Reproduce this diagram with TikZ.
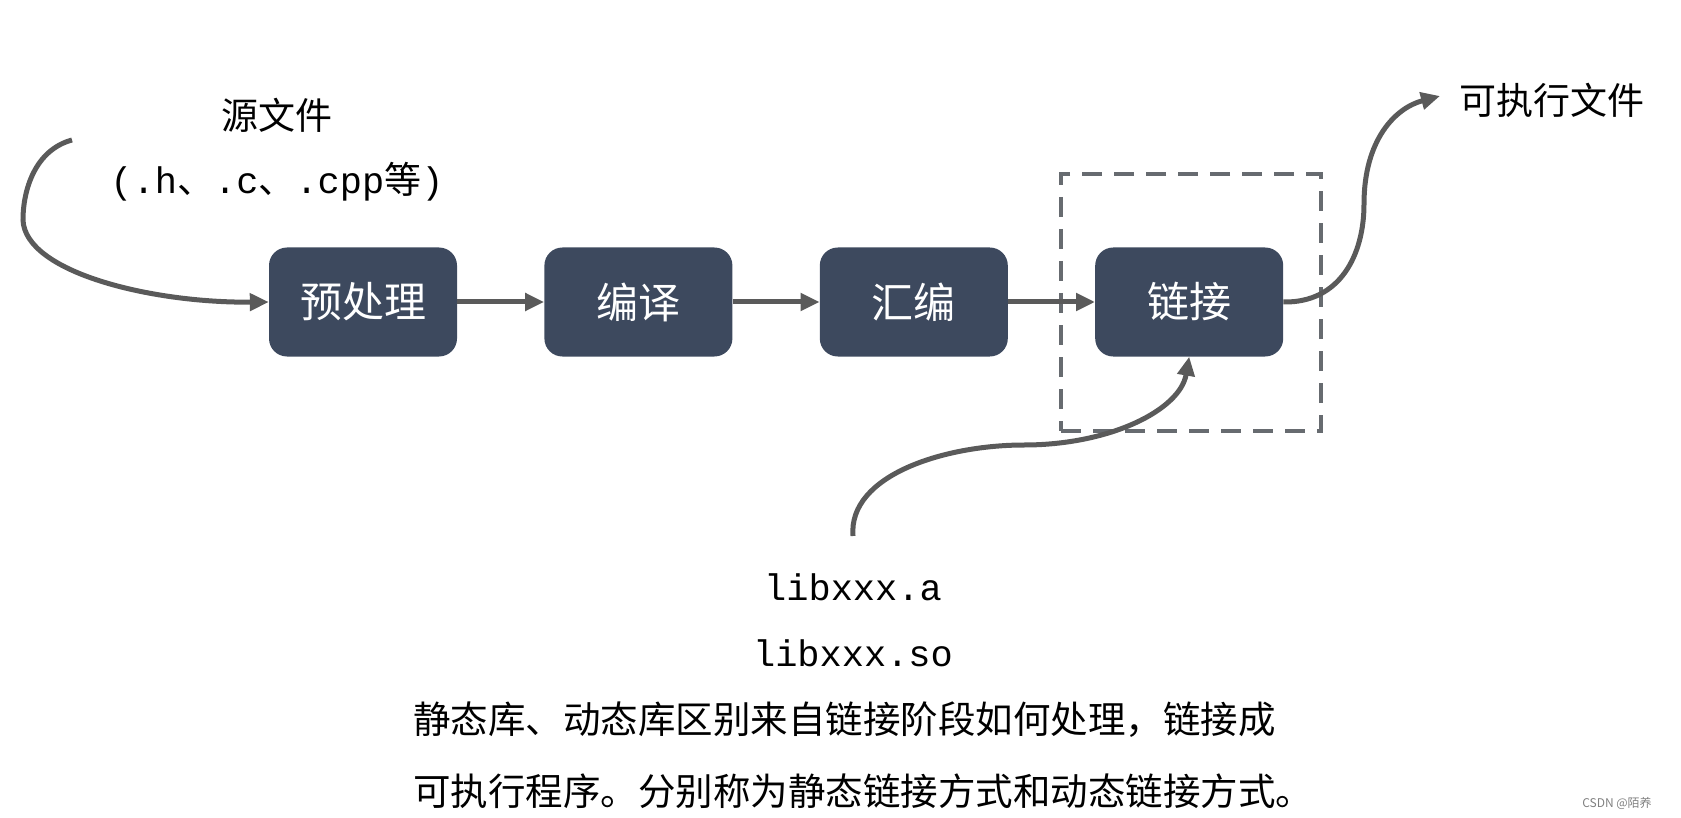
\documentclass[tikz,border=0pt]{standalone}
\usepackage{fontspec}
\setmainfont{Noto Sans CJK SC}
\setmonofont{Liberation Mono}
\usepackage{xcolor}
\usetikzlibrary{arrows.meta,positioning}
\definecolor{boxfill}{RGB}{61,73,94}
\definecolor{linkgray}{RGB}{90,90,90}
\definecolor{dashgray}{RGB}{103,107,112}

\begin{document}
\begin{tikzpicture}[x=1pt,y=-1pt,
  stage/.style={rectangle,rounded corners=18pt,fill=boxfill,text=white,
    minimum width=188pt,minimum height=109pt,inner sep=0pt,font=\fontsize{42}{50}\selectfont},
  flow/.style={draw=linkgray,line width=5pt,-{Triangle[length=19pt,width=17pt]}},
  txt/.style={inner sep=0pt,font=\fontsize{37}{44}\selectfont},
  node distance=87pt]
\useasboundingbox (0,0) rectangle (1681,818);
% link stage frame
\node[draw=dashgray,line width=3.5pt,dash pattern=on 20pt off 12pt,
  minimum width=260pt,minimum height=257pt] (zone) at (1191,302.5) {};
% stages
\node[stage] (pre) at (363,302) {预处理};
\node[stage,right=of pre] (comp) {编译};
\node[stage,right=of comp] (asm) {汇编};
\node[stage,right=of asm] (link) {链接};
\draw[flow] (pre)--(comp);
\draw[flow] (comp)--(asm);
\draw[flow] (asm)--(link);
% texts
\node[txt] (src) at (277,115) {源文件};
\node[txt] (ext) at (277,182) {\texttt{(.h}、\texttt{.c}、\texttt{.cpp}等\texttt{)}};
\node[txt] (exe) at (1552,100) {可执行文件};
\node[txt,font=\ttfamily\fontsize{37}{44}\selectfont] (liba) at (853,587) {libxxx.a};
\node[txt,font=\ttfamily\fontsize{37}{44}\selectfont] (libso) at (853,653) {libxxx.so};
\node[txt,anchor=west,font=\fontsize{37.5}{45}\selectfont] (note1) at (413,720) {静态库、动态库区别来自链接阶段如何处理，链接成};
\node[txt,anchor=west,font=\fontsize{37.5}{45}\selectfont] (note2) at (413,791) {可执行程序。分别称为静态链接方式和动态链接方式。};
\node[font=\fontsize{12}{14}\selectfont,text=gray] (mark) at (1617,803) {CSDN @陌养};
% curved connectors
\coordinate (srcstart) at (72,140);
\coordinate (exeend) at (1440,96);
\coordinate (libstart) at (853,536);
\draw[flow] (srcstart) .. controls (35,150) and (23,190) .. (23,220)
  .. controls (25,272) and (150,303) .. (pre.west);
\draw[flow] (link.east) .. controls (1340,303) and (1364,255) .. (1364,204)
  .. controls (1364,140) and (1395,108) .. (exeend);
\draw[flow] (libstart) .. controls (848,475) and (945,445) .. (1024,445)
  .. controls (1110,445) and (1180,410) .. (link.south);
\end{tikzpicture}
\end{document}
